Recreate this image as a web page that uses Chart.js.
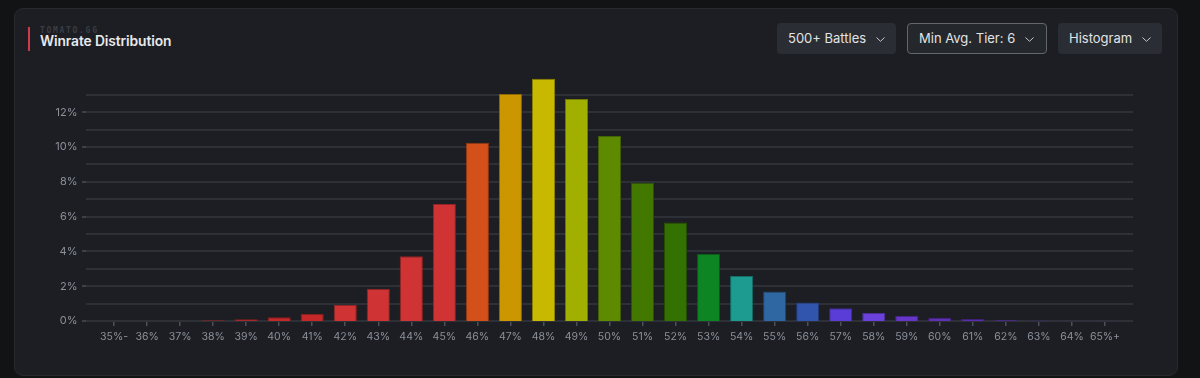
<!DOCTYPE html>
<html>
<head>
<meta charset="utf-8">
<script src="https://cdn.jsdelivr.net/npm/chart.js@4.4.1/dist/chart.umd.min.js"></script>
<style>
  html, body { margin: 0; padding: 0; background: #111315; width: 1200px; height: 378px; overflow: hidden; font-family: Inter, "Noto Sans", sans-serif; }
  .card { position: absolute; left: 14px; top: 8px; width: 1162px; height: 366px; background: #1c1e23; border: 1px solid #26292e; border-radius: 9px; }
  .accent { position: absolute; left: 28px; top: 27px; width: 2px; height: 24px; background: #d23a4a; }
  .brand { position: absolute; left: 40px; top: 26px; font-family: "DejaVu Sans Mono", monospace; font-size: 8px; font-weight: bold; letter-spacing: 1.7px; color: #3a3d45; }
  .title { position: absolute; left: 40px; top: 33px; font-size: 13.8px; font-weight: 600; color: #e8e9eb; letter-spacing: -0.1px; }
  .btn { position: absolute; top: 23px; height: 31px; box-sizing: border-box; background: #2a2d33; border-radius: 4px; color: #e2e3e5; font-size: 13px; line-height: 31px; padding-left: 11px; }
  .btn svg { position: absolute; top: 14px; }
  .btn.sel { background: #24272c; border: 1.5px solid #62666e; line-height: 28px; padding-left: 11px; }
  #wrap { position: absolute; left: 0; top: 0; width: 1200px; height: 378px; }
</style>
</head>
<body>
<div class="card"></div>
<div class="accent"></div>
<div class="brand">TOMATO.GG</div>
<div class="title">Winrate Distribution</div>
<div class="btn" style="left:777px;width:119px;">500+ Battles<svg style="left:99px" width="9" height="5" viewBox="0 0 9 5"><polyline points="0.5,0.5 4.5,4.3 8.5,0.5" fill="none" stroke="#c8c9cc" stroke-width="1"/></svg></div>
<div class="btn sel" style="left:907px;width:140px;">Min Avg. Tier: 6<svg style="left:117px;top:12.5px" width="9" height="5" viewBox="0 0 9 5"><polyline points="0.5,0.5 4.5,4.3 8.5,0.5" fill="none" stroke="#c8c9cc" stroke-width="1"/></svg></div>
<div class="btn" style="left:1058px;width:104px;">Histogram<svg style="left:84px" width="9" height="5" viewBox="0 0 9 5"><polyline points="0.5,0.5 4.5,4.3 8.5,0.5" fill="none" stroke="#c8c9cc" stroke-width="1"/></svg></div>
<div id="wrap"><canvas id="chart"></canvas></div>
<script>
const categories = ['35%-', '36%', '37%', '38%', '39%', '40%', '41%', '42%', '43%', '44%', '45%',
  '46%', '47%', '48%', '49%', '50%', '51%', '52%', '53%', '54%', '55%', '56%', '57%', '58%',
  '59%', '60%', '61%', '62%', '63%', '64%', '65%+'];
const shares = [0, 0, 0, 0.04, 0.1, 0.22, 0.42, 0.92, 1.86, 3.72, 6.73,
  10.25, 13.05, 13.93, 12.77, 10.64, 7.95, 5.67, 3.87, 2.59, 1.69, 1.07, 0.73, 0.46,
  0.3, 0.19, 0.12, 0.06, 0.03, 0.02, 0.02];
const barColors = ['#c52828', '#c52828', '#c52828', '#c52828', '#c52828', '#c52828', '#c52828',
  '#cf3333', '#cf3333', '#cf3333', '#cf3333',
  '#d4501a', '#cc9600', '#c8b900', '#a1af00', '#5e8a00', '#427800', '#337100', '#0c8522',
  '#1d9b91', '#2e67a2', '#3155ad', '#5a3dd6', '#6b41dc', '#6635c9', '#5f2fb8', '#5c2db0',
  '#5a2ca8', '#552a9c', '#552a9c', '#552a9c'];
const yTicks = [0, 1, 2, 3, 4, 5, 6, 7, 8, 9, 10, 11, 12, 13];
const yLabelled = [0, 2, 4, 6, 8, 10, 12];

// darker outline for each bar
function shade(hex, f) {
  const n = parseInt(hex.slice(1), 16);
  const r = Math.round(((n >> 16) & 255) * f), g = Math.round(((n >> 8) & 255) * f), b = Math.round((n & 255) * f);
  return 'rgb(' + r + ',' + g + ',' + b + ')';
}

// horizontal grid lines run a little past the bars on both sides
const wideGrid = {
  id: 'wideGrid',
  beforeDatasetsDraw(chart) {
    const { ctx, chartArea, scales } = chart;
    const y = scales.y;
    ctx.save();
    y.ticks.forEach(t => {
      const py = Math.round(y.getPixelForValue(t.value));
      ctx.strokeStyle = '#2d3037';
      ctx.lineWidth = 2;
      ctx.beginPath();
      ctx.moveTo(chartArea.left - 11.5, py);
      ctx.lineTo(chartArea.right + 11.5, py);
      ctx.stroke();
      if (yLabelled.includes(t.value)) {
        ctx.strokeStyle = '#3d4048';
        ctx.beginPath();
        ctx.moveTo(chartArea.left - 15.5, py);
        ctx.lineTo(chartArea.left - 11.5, py);
        ctx.stroke();
      }
    });
    ctx.restore();
  }
};

new Chart(document.getElementById('chart'), {
  type: 'bar',
  data: {
    labels: categories,
    datasets: [{
      data: shares,
      backgroundColor: barColors,
      borderColor: barColors.map(c => shade(c, 0.7)),
      borderWidth: 1,
      categoryPercentage: 1,
      barPercentage: 0.7,
    }],
  },
  options: {
    responsive: true,
    maintainAspectRatio: false,
    animation: false,
    layout: { padding: { top: 77.5, right: 78.5, bottom: 17, left: 0 } },
    plugins: { legend: { display: false }, tooltip: { enabled: false } },
    scales: {
      x: {
        afterFit(s) { s.height = 40; },
        border: { display: false },
        grid: { offset: false, drawOnChartArea: false, tickLength: 5, color: '#4b4f57', lineWidth: 1.5 },
        ticks: { color: '#8b909a', font: { family: 'Inter', size: 10.5 }, padding: 5, maxRotation: 0, autoSkip: false },
      },
      y: {
        min: 0,
        max: 14,
        afterFit(s) { s.width = 97.5; },
        afterBuildTicks(s) { s.ticks = yTicks.map(v => ({ value: v })); },
        border: { display: false },
        grid: { display: false, drawTicks: false },
        ticks: {
          color: '#8b909a',
          font: { family: 'Inter', size: 11 },
          padding: 20,
          callback: v => yLabelled.includes(v) ? v + '%' : '',
        },
      },
    },
  },
  plugins: [wideGrid],
});
</script>
</body>
</html>
